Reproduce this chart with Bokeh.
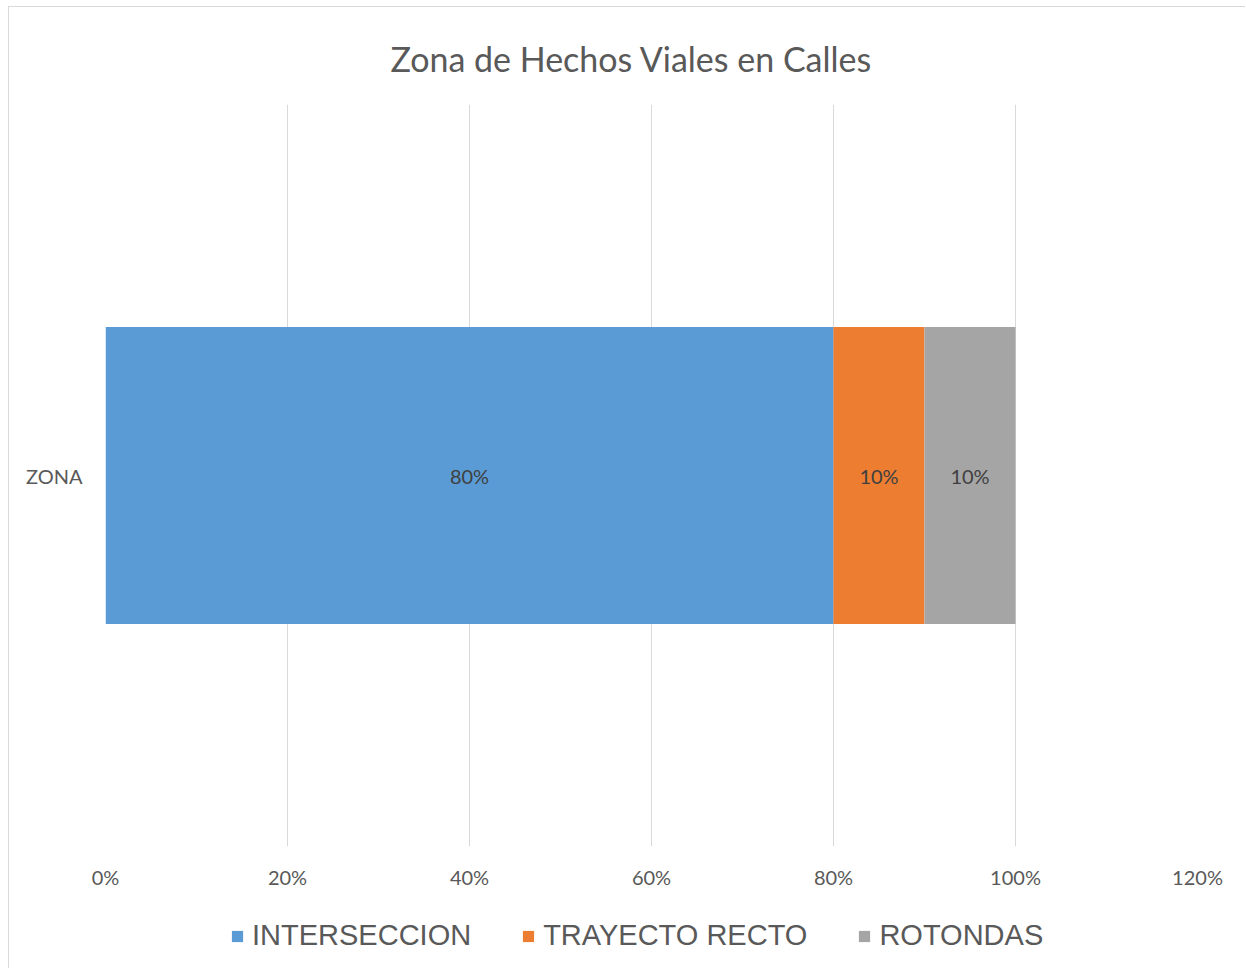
from bokeh.plotting import figure
from bokeh.layouts import column
from bokeh.models import (ColumnDataSource, FactorRange, Range1d, Legend, LegendItem,
                          NumeralTickFormatter, FixedTicker)
from bokeh.core.properties import value
from bokeh.embed import file_html
from bokeh.resources import INLINE

# ---- data ----
categories = ["ZONA"]
series = ["INTERSECCION", "TRAYECTO RECTO", "ROTONDAS"]
values = [0.80, 0.10, 0.10]
data_labels = ["80%", "10%", "10%"]
colors = ["#5B9BD5", "#ED7D31", "#A5A5A5"]
x_ticks = [0, 0.2, 0.4, 0.6, 0.8, 1.0, 1.2]
title_text = "Zona de Hechos Viales en Calles"

# ---- main chart ----
p = figure(frame_width=1092, frame_height=742,
           y_range=FactorRange(factors=categories, range_padding=0),
           x_range=Range1d(0, 1.2),
           output_backend="svg", toolbar_location=None,
           min_border_left=96, min_border_right=48,
           min_border_top=97, min_border_bottom=40)

p.title.text = title_text
p.title.text_font = "Lato"
p.title.text_font_size = "34px"
p.title.text_font_style = "normal"
p.title.text_color = "#595959"
p.title.align = "left"
p.title.offset = 285
p.title.standoff = 52

cum = 0.0
lbl_x, lbl_y = [], []
lefts, rights = [], []
for name, v, c in zip(series, values, colors):
    src = ColumnDataSource(dict(y=categories, left=[cum], right=[cum + v]))
    p.hbar(y="y", left="left", right="right", height=0.4, source=src,
           fill_color=c, line_color=None)
    lefts.append(cum)
    rights.append(cum + v)
    lbl_x.append(cum + v / 2)
    lbl_y.append(categories[0])
    cum += v

p.text(x=lbl_x, y=lbl_y, text=data_labels, text_align="center", text_baseline="middle",
       text_font=value("Lato"), text_font_size="20px", text_color="#404040")

p.xaxis.ticker = FixedTicker(ticks=x_ticks)
p.xaxis.formatter = NumeralTickFormatter(format="0%")
for ax in (p.xaxis, p.yaxis):
    ax.axis_line_color = None
    ax.major_tick_line_color = None
    ax.minor_tick_line_color = None
    ax.major_label_text_font = "Lato"
    ax.major_label_text_font_size = "20px"
    ax.major_label_text_color = "#595959"
p.xaxis.major_label_standoff = 12
p.yaxis.major_label_standoff = 17

p.xgrid.grid_line_color = "#d9d9d9"
p.xgrid.grid_line_width = 1
p.ygrid.grid_line_color = None
p.outline_line_color = None

# ---- legend strip (same series, bars kept outside the visible range) ----
p2 = figure(width=1236, height=82, x_range=Range1d(0, 1), y_range=Range1d(0, 1),
            output_backend="svg", toolbar_location=None,
            x_axis_location=None, y_axis_location=None, min_border=0)
p2.grid.visible = False
p2.outline_line_color = None
items = []
for name, l, r_, c in zip(series, lefts, rights, colors):
    rr = p2.hbar(y=[-5], left=[l], right=[r_], height=0.4, fill_color=c, line_color=None)
    items.append(LegendItem(label=name, renderers=[rr]))

legend = Legend(items=items, orientation="horizontal", location=(125, 21),
                border_line_alpha=0, background_fill_alpha=0,
                label_text_font="Liberation Sans", label_text_font_size="29px",
                label_text_color="#595959", glyph_width=14, glyph_height=14,
                label_standoff=8, spacing=50, padding=0, margin=0)
p2.add_layout(legend)

layout = column(p, p2, spacing=0)
layout.styles = {"border-top": "1px solid #d9d9d9", "border-left": "1px solid #d9d9d9",
                 "margin-left": "8px", "margin-top": "6px"}

html = file_html(layout, INLINE)
html = html.replace("</head>", "<style>html, body { overflow: hidden; }</style></head>", 1)
open("out.html", "w").write(html)
